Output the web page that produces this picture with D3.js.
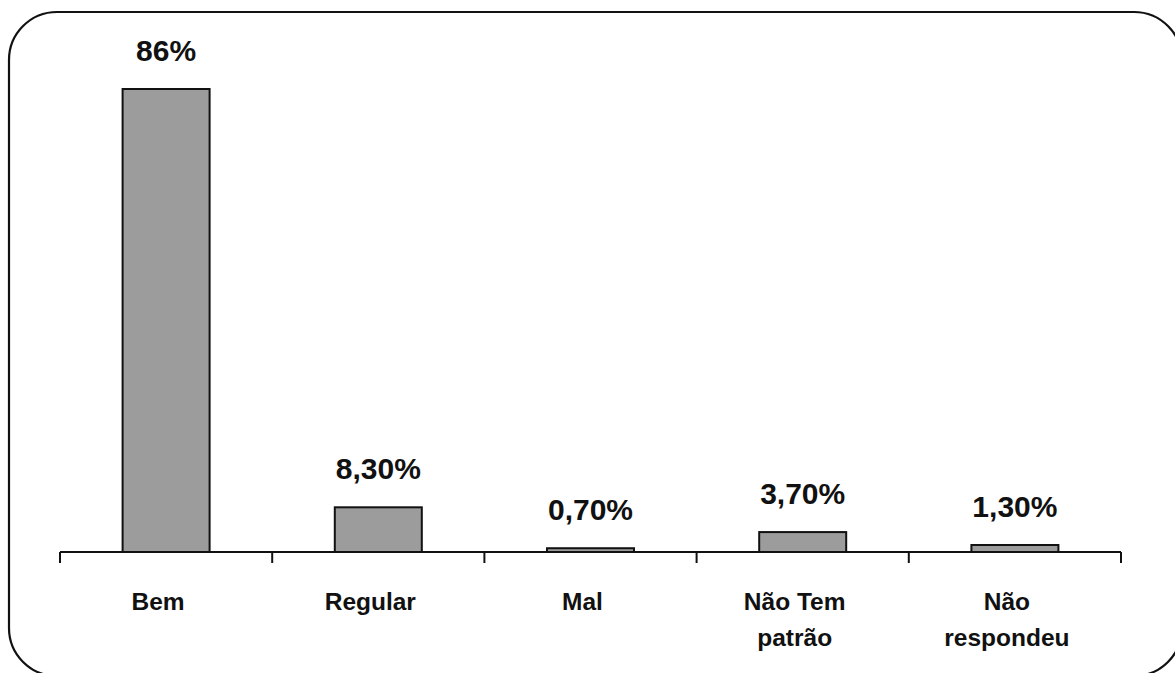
<!DOCTYPE html>
<html>
<head>
<meta charset="utf-8">
<script src="https://cdn.jsdelivr.net/npm/d3@7"></script>
<style>
  html, body { margin: 0; padding: 0; background: #fff; overflow: hidden; }
  svg { display: block; }
  text { font-family: "Liberation Sans", Arial, sans-serif; font-weight: bold; fill: #111; }
</style>
</head>
<body>
<svg id="chart" width="1175" height="673"></svg>
<script>
// Categories (each entry is a list of label lines) and their percentages
const categories = ["Bem", "Regular", "Mal", "Não Tem patrão", "Não respondeu"];
const categoryLines = [["Bem"], ["Regular"], ["Mal"], ["Não Tem", "patrão"], ["Não", "respondeu"]];
const values = [86, 8.3, 0.7, 3.7, 1.3];
const valueLabels = ["86%", "8,30%", "0,70%", "3,70%", "1,30%"];

const svg = d3.select("#chart");

// Rounded frame around the chart; its right and bottom edges run past the page
svg.append("rect")
  .attr("x", 9).attr("y", 12)
  .attr("width", 1173).attr("height", 664)
  .attr("rx", 48).attr("ry", 48)
  .attr("fill", "none")
  .attr("stroke", "#111")
  .attr("stroke-width", 2.2);

const x = d3.scaleBand()
  .domain(categories)
  .range([60, 1121])
  .paddingInner(0.59)
  .paddingOuter(0.295);

const y = d3.scaleLinear()
  .domain([0, 86])
  .range([552, 89]);

// Bars
svg.append("g")
  .selectAll("rect")
  .data(values)
  .join("rect")
  .attr("x", (d, i) => x(categories[i]))
  .attr("y", d => y(d))
  .attr("width", x.bandwidth())
  .attr("height", d => y(0) - y(d))
  .attr("fill", "#9c9c9c")
  .attr("stroke", "#111")
  .attr("stroke-width", 2);

// Value labels above bars
svg.append("g")
  .selectAll("text")
  .data(values)
  .join("text")
  .attr("x", (d, i) => x(categories[i]) + x.bandwidth() / 2)
  .attr("y", d => y(d) - 28)
  .attr("text-anchor", "middle")
  .attr("font-size", 30)
  .text((d, i) => valueLabels[i]);

// Horizontal axis with ticks between categories
const step = x.step();
const boundaries = d3.range(categories.length + 1).map(i => x.range()[0] + i * step);
const axisG = svg.append("g");
axisG.append("line")
  .attr("x1", x.range()[0]).attr("x2", x.range()[1])
  .attr("y1", y(0)).attr("y2", y(0))
  .attr("stroke", "#111").attr("stroke-width", 2.2);
axisG.selectAll("line.tick")
  .data(boundaries)
  .join("line")
  .attr("class", "tick")
  .attr("x1", d => d).attr("x2", d => d)
  .attr("y1", y(0)).attr("y2", y(0) + 11)
  .attr("stroke", "#111").attr("stroke-width", 2);

// Category labels (wrapped onto two lines where needed)
const catG = svg.append("g")
  .selectAll("text")
  .data(categoryLines)
  .join("text")
  .attr("text-anchor", "middle")
  .attr("font-size", 24.5)
  .attr("x", (d, i) => x(categories[i]) + x.bandwidth() / 2 - 8)
  .attr("y", y(0) + 58);
catG.selectAll("tspan")
  .data(d => d)
  .join("tspan")
  .attr("x", function () { return d3.select(this.parentNode).attr("x"); })
  .attr("dy", (d, i) => i === 0 ? 0 : 36)
  .text(d => d);
</script>
</body>
</html>
